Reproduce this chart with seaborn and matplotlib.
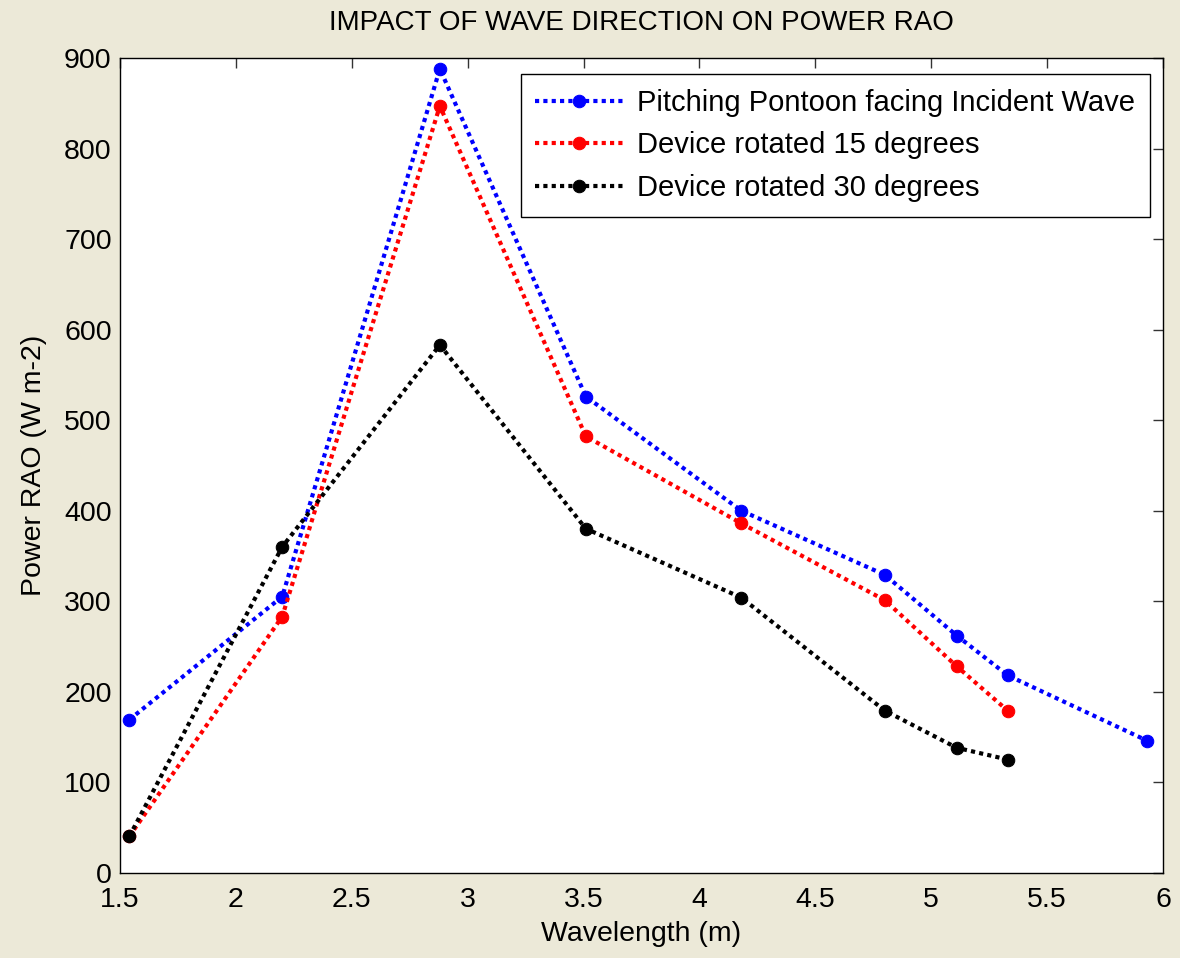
import matplotlib
matplotlib.use("Agg")
import matplotlib.pyplot as plt
import seaborn as sns
import pandas as pd

sns.set_style("white")
plt.rcParams['font.family'] = ['Liberation Sans', 'DejaVu Sans']
plt.rcParams['text.color'] = 'black'
plt.rcParams['axes.labelcolor'] = 'black'

# Data
wavelength_blue = [1.54, 2.2, 2.88, 3.51, 4.18, 4.8, 5.11, 5.33, 5.93]
power_blue = [169, 305, 888, 526, 400, 329, 262, 218, 146]
wavelength_red = [1.54, 2.2, 2.88, 3.51, 4.18, 4.8, 5.11, 5.33]
power_red = [40, 283, 847, 482, 386, 301, 228, 179]
wavelength_black = [1.54, 2.2, 2.88, 3.51, 4.18, 4.8, 5.11, 5.33]
power_black = [40, 360, 583, 380, 304, 179, 138, 125]

labels = ["Pitching Pontoon facing Incident Wave",
          "Device rotated 15 degrees",
          "Device rotated 30 degrees"]
colors = ["#0000FF", "#FF0000", "#000000"]

x_ticks = [1.5, 2, 2.5, 3, 3.5, 4, 4.5, 5, 5.5, 6]
x_ticklabels = ["1.5", "2", "2.5", "3", "3.5", "4", "4.5", "5", "5.5", "6"]
y_ticks = [0, 100, 200, 300, 400, 500, 600, 700, 800, 900]

series = [(wavelength_blue, power_blue), (wavelength_red, power_red),
          (wavelength_black, power_black)]

bg = "#ECE9D8"
fig = plt.figure(figsize=(11.8, 9.58), dpi=100, facecolor=bg)
ax = fig.add_axes([120/1180, 85.3/958, (1163-120)/1180, (872.7-58)/958])
ax.set_facecolor("white")

for (xs, ys), lab, col in zip(series, labels, colors):
    df = pd.DataFrame({"Wavelength": xs, "Power": ys})
    sns.lineplot(data=df, x="Wavelength", y="Power", ax=ax, color=col,
                 marker="o", markersize=9, markeredgecolor=col,
                 linewidth=3, linestyle=(0, (1, 1)), label=lab,
                 estimator=None, sort=False)

ax.set_xlim(1.5, 6)
ax.set_ylim(0, 900)
ax.set_xticks(x_ticks)
ax.set_xticklabels(x_ticklabels)
ax.set_yticks(y_ticks)
ax.tick_params(direction="in", length=7, width=1, top=True, right=True,
               labelsize=20.5, colors="#333333", labelcolor="black")
ax.tick_params(axis="y", pad=6)
ax.tick_params(axis="x", pad=10)
for s in ax.spines.values():
    s.set_visible(True)
    s.set_color("black")
    s.set_linewidth(1)

ax.set_xlabel("Wavelength (m)", fontsize=20.5, labelpad=6)
ax.set_ylabel("Power RAO (W m-2)", fontsize=20.5, labelpad=12)
ax.set_title("IMPACT OF WAVE DIRECTION ON POWER RAO", fontsize=20, pad=20)

leg = ax.legend(loc="upper right", bbox_to_anchor=(0.9875, 0.98), fontsize=21,
                frameon=True, fancybox=False, edgecolor="black",
                handlelength=3, borderpad=0.5, labelspacing=0.5,
                handletextpad=0.5, borderaxespad=0)
leg.get_frame().set_linewidth(1)
leg.get_frame().set_alpha(1)

fig.savefig("out.png", dpi=100, facecolor=bg)
